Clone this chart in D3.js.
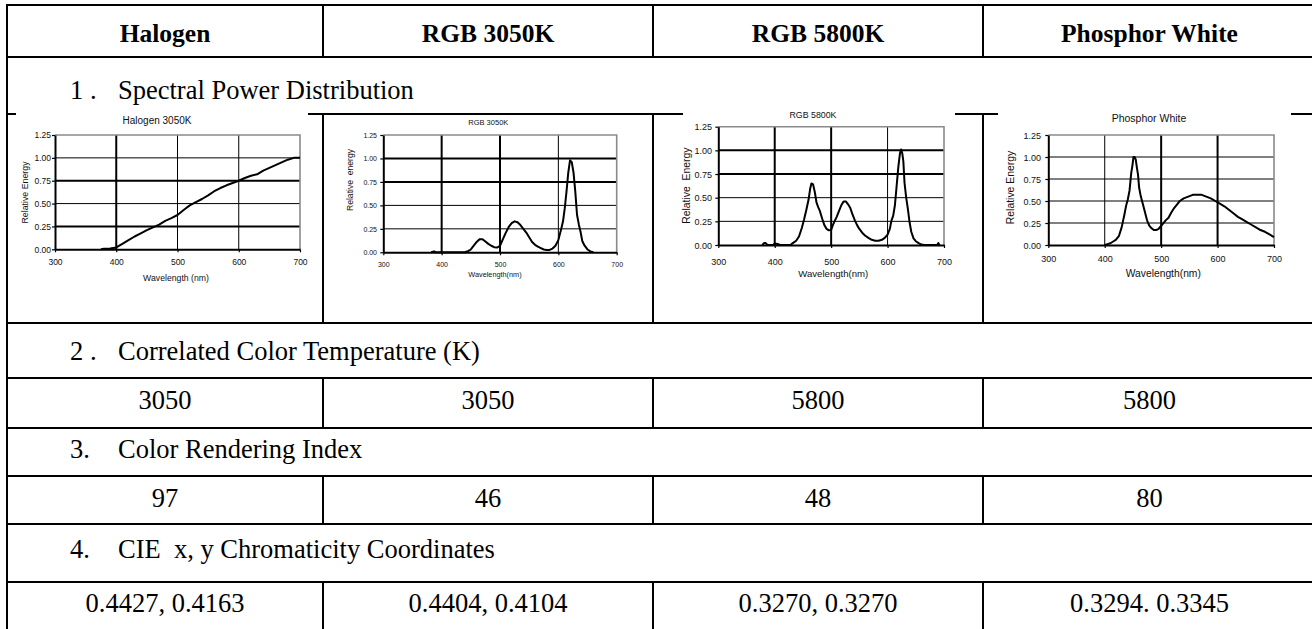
<!DOCTYPE html>
<html>
<head>
<meta charset="utf-8">
<script src="https://cdn.jsdelivr.net/npm/d3@7"></script>
<style>
  html, body { margin: 0; padding: 0; background: #fff; }
  svg { display: block; }
  text { white-space: pre; }
</style>
</head>
<body>
<svg id="sheet" width="1312" height="629"></svg>
<script>
// ---------------- table content ----------------
const lampNames = ["Halogen", "RGB 3050K", "RGB 5800K", "Phosphor White"];
const rowNumbers = ["1 .", "2 .", "3.", "4."];
const rowLabels = [
  "Spectral Power Distribution",
  "Correlated Color Temperature (K)",
  "Color Rendering Index",
  "CIE  x, y Chromaticity Coordinates"
];
const cctValues = ["3050", "3050", "5800", "5800"];
const criValues = ["97", "46", "48", "80"];
const cieValues = ["0.4427, 0.4163", "0.4404, 0.4104", "0.3270, 0.3270", "0.3294. 0.3345"];

// ---------------- spectral chart content ----------------
const chartTitles = ["Halogen 3050K", "RGB 3050K", "RGB 5800K", "Phosphor White"];
const yAxisTitles = ["Relative Energy", "Relative  energy", "Relative  Energy", "Relative Energy"];
const xAxisTitles = ["Wavelength (nm)", "Wavelength(nm)", "Wavelength(nm)", "Wavelength(nm)"];
const wavelengthTicks = [300, 400, 500, 600, 700];
const energyTicks = [0, 0.25, 0.5, 0.75, 1.0, 1.25];

// [wavelength nm, relative energy]
const halogenSpd = [
  [375,0],[380,0.005],[390,0.01],[400,0.02],[405,0.04],[410,0.06],[420,0.10],[430,0.14],
  [440,0.175],[450,0.21],[460,0.24],[470,0.27],[480,0.31],[490,0.34],[500,0.375],[510,0.43],
  [520,0.48],[530,0.515],[540,0.55],[550,0.59],[560,0.635],[570,0.67],[580,0.70],[590,0.725],
  [600,0.75],[610,0.78],[620,0.805],[630,0.82],[640,0.86],[650,0.89],[660,0.92],[670,0.95],
  [680,0.98],[690,1.0],[700,1.0]
];
const rgb3050Spd = [
  [382,0],[387,0.01],[390,0],[440,0],[446,0.015],[450,0.03],[455,0.07],[460,0.11],[465,0.14],
  [470,0.14],[475,0.115],[480,0.09],[485,0.07],[490,0.055],[495,0.05],[500,0.07],[505,0.14],
  [510,0.21],[515,0.27],[520,0.31],[525,0.33],[530,0.32],[535,0.29],[540,0.25],[545,0.21],
  [550,0.16],[555,0.11],[560,0.08],[565,0.06],[570,0.045],[575,0.03],[580,0.025],[585,0.025],
  [590,0.04],[595,0.07],[600,0.13],[605,0.25],[608,0.33],[611,0.47],[614,0.65],[617,0.85],
  [620,0.98],[623,0.96],[626,0.85],[629,0.65],[632,0.40],[635,0.30],[638,0.22],[641,0.12],
  [645,0.07],[650,0.03],[655,0.01],[660,0]
];
const rgb5800Spd = [
  [378,0],[381,0.02],[384,0.02],[387,0],[397,0],[400,0.015],[405,0.01],[410,0],[428,0],
  [432,0.02],[438,0.045],[443,0.09],[448,0.18],[452,0.27],[456,0.37],[460,0.48],[463,0.60],
  [465,0.65],[468,0.64],[471,0.56],[474,0.45],[477,0.40],[480,0.36],[484,0.28],[488,0.21],
  [492,0.17],[496,0.155],[500,0.16],[503,0.21],[506,0.25],[510,0.30],[514,0.36],[518,0.42],
  [522,0.46],[526,0.46],[530,0.43],[534,0.39],[538,0.32],[542,0.26],[546,0.21],[550,0.17],
  [555,0.13],[560,0.10],[566,0.075],[572,0.055],[578,0.045],[584,0.045],[590,0.055],[595,0.075],
  [600,0.11],[604,0.17],[607,0.26],[610,0.31],[613,0.42],[616,0.62],[619,0.82],[622,0.97],
  [624,1.01],[626,0.97],[628,0.88],[630,0.66],[633,0.50],[636,0.38],[639,0.24],[642,0.14],
  [646,0.07],[650,0.04],[655,0.02],[660,0.005],[665,0],[688,0],[690,0.02],[692,0]
];
const phosphorSpd = [
  [400,0],[405,0.01],[410,0.02],[415,0.04],[420,0.06],[425,0.10],[430,0.20],[435,0.35],
  [438,0.45],[441,0.52],[444,0.62],[447,0.82],[449,0.90],[451,1.0],[453,1.0],[455,0.97],
  [457,0.88],[459,0.80],[461,0.65],[464,0.55],[467,0.48],[471,0.38],[475,0.28],[479,0.22],
  [483,0.19],[487,0.17],[491,0.17],[495,0.18],[499,0.21],[503,0.24],[508,0.28],[513,0.31],
  [518,0.37],[523,0.42],[528,0.46],[533,0.50],[540,0.53],[548,0.55],[556,0.57],[564,0.57],
  [572,0.57],[580,0.55],[588,0.53],[596,0.50],[604,0.47],[612,0.44],[620,0.40],[628,0.36],
  [636,0.32],[644,0.29],[652,0.26],[660,0.23],[668,0.20],[676,0.17],[684,0.15],[692,0.12],
  [700,0.09]
];
const spectra = [halogenSpd, rgb3050Spd, rgb5800Spd, phosphorSpd];

// ---------------- layout ----------------
const W = 1312, H = 629;
const colEdges = [7, 323, 653, 983, 1316];
const hLines = [5, 57, 114, 323, 378, 428, 476, 524, 582];
// rows that are split into four cells (vertical separators drawn there)
const splitRows = [[5, 57], [114, 323], [378, 428], [476, 524], [582, 640]];
const numberX = 70, labelX = 118;
const headerBaseline = 42;
const labelBaselines = [99, 360, 458, 558];
const valueBaselines = [409, 507, 612];

const serif = "'Liberation Serif', 'Times New Roman', serif";
const sans = "'Liberation Sans', Arial, sans-serif";

// per-panel geometry of the small spectral plots
const panels = [
  { left: 55, right: 300, top: 135, bottom: 249.3,
    title: [157, 120, 10], tickFont: 8.5, xLabelY: 261.7, yLabelRight: 51,
    xTitle: [176, 278.3, 8.7], yTitle: [25, 192.5, 8.8],
    thickY: [0.25, 0.75], thickX: [400], cover: [16, 308] },
  { left: 383.3, right: 616.7, top: 135, bottom: 252.3,
    title: [488.3, 122.3, 7.5], tickFont: 7, xLabelY: 264.3, yLabelRight: 377,
    xTitle: [495, 274.3, 7.3], yTitle: [350, 180, 8.6],
    thickY: [0.75, 1.0], thickX: [400, 500], cover: null },
  { left: 718.3, right: 944, top: 126.7, bottom: 245,
    title: [813, 114.5, 8.8], tickFont: 9, xLabelY: 261.7, yLabelRight: 712,
    xTitle: [833.3, 274, 9.6], yTitle: [686, 185.7, 10.4],
    thickY: [0.75, 1.0], thickX: [400, 500], cover: [683, 955] },
  { left: 1048.3, right: 1274, top: 135, bottom: 245,
    title: [1149, 118.5, 10.5], tickFont: 9, xLabelY: 259, yLabelRight: 1041,
    xTitle: [1163.3, 273.3, 10.3], yTitle: [1010, 187.5, 10.4],
    thickY: [], thickX: [500, 600], cover: [998, 1291] }
];

const svg = d3.select("#sheet");
svg.append("rect").attr("width", W).attr("height", H).attr("fill", "#fff");

// ---------------- table grid ----------------
const grid = svg.append("g").attr("stroke", "#000").attr("stroke-width", 2);
grid.selectAll("line.h").data(hLines).join("line").attr("class", "h")
  .attr("x1", colEdges[0] - 1).attr("x2", colEdges[4])
  .attr("y1", d => d).attr("y2", d => d);
grid.append("line")
  .attr("x1", colEdges[0]).attr("x2", colEdges[0])
  .attr("y1", hLines[0] - 1).attr("y2", H + 10);
splitRows.forEach(([y0, y1]) => {
  grid.selectAll(null).data(colEdges.slice(1, 4)).join("line")
    .attr("x1", d => d).attr("x2", d => d)
    .attr("y1", y0).attr("y2", y1);
});

const colCenter = i => (colEdges[i] + colEdges[i + 1]) / 2;

// header row
svg.append("g").selectAll("text").data(lampNames).join("text")
  .attr("x", (d, i) => colCenter(i)).attr("y", headerBaseline)
  .attr("text-anchor", "middle")
  .attr("font-family", serif).attr("font-weight", "bold").attr("font-size", 25.5)
  .text(d => d);

// section labels
const labels = svg.append("g").attr("font-family", serif).attr("font-size", 26.5);
labels.selectAll("text.num").data(rowNumbers).join("text").attr("class", "num")
  .attr("x", numberX).attr("y", (d, i) => labelBaselines[i]).text(d => d);
labels.selectAll("text.lab").data(rowLabels).join("text").attr("class", "lab")
  .attr("x", labelX).attr("y", (d, i) => labelBaselines[i])
  .attr("xml:space", "preserve").text(d => d);

// value rows
[cctValues, criValues, cieValues].forEach((vals, r) => {
  svg.append("g").selectAll("text").data(vals).join("text")
    .attr("x", (d, i) => colCenter(i)).attr("y", valueBaselines[r])
    .attr("text-anchor", "middle")
    .attr("font-family", serif).attr("font-size", 26.5)
    .text(d => d);
});

// ---------------- spectral plots ----------------
panels.forEach((p, i) => {
  const g = svg.append("g");
  if (p.cover) {
    g.append("rect").attr("x", p.cover[0]).attr("y", 108)
      .attr("width", p.cover[1] - p.cover[0]).attr("height", 200).attr("fill", "#fff");
  }
  const x = d3.scaleLinear().domain([300, 700]).range([p.left, p.right]);
  const y = d3.scaleLinear().domain([0, 1.25]).range([p.bottom, p.top]);

  // title
  g.append("text").attr("x", p.title[0]).attr("y", p.title[1]).attr("dy", "0.35em")
    .attr("text-anchor", "middle").attr("font-family", sans).attr("font-size", p.title[2])
    .attr("fill", "#111").text(chartTitles[i]);

  // gridlines
  g.append("g").selectAll("line").data(energyTicks.filter(v => v > 0 && v < 1.25)).join("line")
    .attr("x1", p.left).attr("x2", p.right)
    .attr("y1", d => y(d)).attr("y2", d => y(d))
    .attr("stroke", "#000").attr("stroke-width", d => p.thickY.includes(d) ? 2 : 1);
  g.append("g").selectAll("line").data(wavelengthTicks.filter(v => v > 300 && v < 700)).join("line")
    .attr("x1", d => x(d)).attr("x2", d => x(d))
    .attr("y1", p.top).attr("y2", p.bottom)
    .attr("stroke", "#000").attr("stroke-width", d => p.thickX.includes(d) ? 2 : 1);

  // plot frame (top and right in grey)
  g.append("path")
    .attr("d", `M${p.left},${y(1.25)}H${x(700)}V${p.bottom}`)
    .attr("fill", "none").attr("stroke", "#8a8a8a").attr("stroke-width", 1.6);

  // axes
  const xAxis = g.append("g").attr("transform", `translate(0,${p.bottom})`)
    .call(d3.axisBottom(x).tickValues(wavelengthTicks).tickSize(3).tickSizeOuter(0));
  const yAxis = g.append("g").attr("transform", `translate(${p.left},0)`)
    .call(d3.axisLeft(y).tickValues(energyTicks).tickFormat(d3.format(".2f")).tickSize(3).tickSizeOuter(0));
  [xAxis, yAxis].forEach(ax => {
    ax.select(".domain").attr("stroke", "#000").attr("stroke-width", 2);
    ax.selectAll(".tick line").attr("stroke", "#000").attr("stroke-width", 1.2);
    ax.selectAll(".tick text").attr("fill", "#111")
      .attr("font-family", sans).attr("font-size", p.tickFont);
  });
  xAxis.selectAll(".tick text").attr("y", p.xLabelY - p.bottom).attr("dy", "0.35em");
  yAxis.selectAll(".tick text").attr("x", -(p.left - p.yLabelRight)).attr("dy", "0.35em");

  // axis titles
  g.append("text").attr("x", p.xTitle[0]).attr("y", p.xTitle[1]).attr("dy", "0.35em")
    .attr("text-anchor", "middle").attr("font-family", sans).attr("font-size", p.xTitle[2])
    .attr("fill", "#111").text(xAxisTitles[i]);
  g.append("text")
    .attr("transform", `translate(${p.yTitle[0]},${p.yTitle[1]}) rotate(-90)`)
    .attr("dy", "0.35em").attr("text-anchor", "middle")
    .attr("font-family", sans).attr("font-size", p.yTitle[2])
    .attr("fill", "#111").attr("xml:space", "preserve").text(yAxisTitles[i]);

  // spectrum
  const line = d3.line().x(d => x(d[0])).y(d => y(d[1]));
  g.append("path").datum(spectra[i]).attr("d", line)
    .attr("fill", "none").attr("stroke", "#000").attr("stroke-width", 2)
    .attr("stroke-linejoin", "round");
});
</script>
</body>
</html>
